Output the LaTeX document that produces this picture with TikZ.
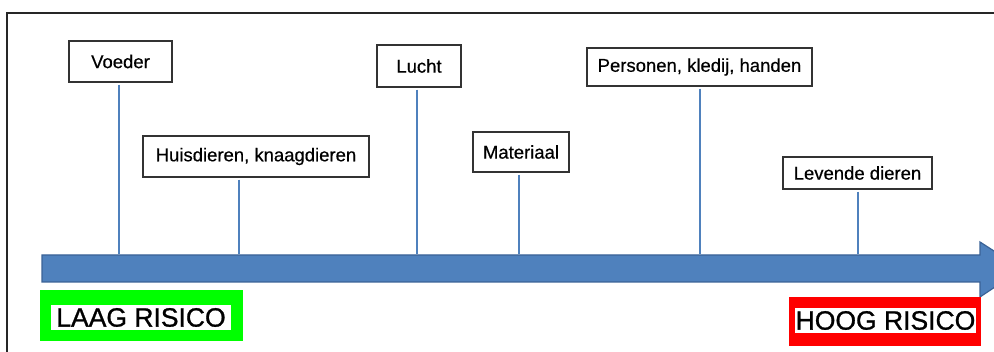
\documentclass[tikz,border=0pt]{standalone}
\usepackage{fontspec}
\setmainfont{Liberation Sans}
\definecolor{barblue}{HTML}{4F81BD}
\definecolor{bardark}{HTML}{3A6296}
\definecolor{boxgray}{HTML}{333333}
\begin{document}
\begin{tikzpicture}[x=1pt,y=-1pt,
  item/.style={draw=boxgray,line width=1.3pt,fill=white,inner sep=0pt,font=\fontsize{18.5}{20}\selectfont\addfontfeature{FakeBold=0.5}},
  stem/.style={draw=barblue,line width=2.2pt},
  risk/.style={fill=white,inner sep=0pt,minimum height=25pt,font=\fontsize{26.5}{28}\selectfont\addfontfeature{FakeBold=1}}]
\useasboundingbox (0,0) rectangle (994,352);
\clip (0,0) rectangle (994,352);
% frame
\draw[line width=2.2pt,black!85] (7,353) -- (7,13) -- (996,13);
% bar arrow
\fill[barblue,draw=bardark,line width=1.2pt] (42,255) -- (980,255) -- (980,242) -- (1022,269) -- (980,297) -- (980,282) -- (42,282) -- cycle;
% items
\node[item,minimum width=103pt,minimum height=41pt] (voeder) at (120.5,61.5) {Voeder};
\node[item,minimum width=226pt,minimum height=41pt] (huis) at (256,156.5) {Huisdieren, knaagdieren};
\node[item,minimum width=84pt,minimum height=42pt] (lucht) at (419,66) {Lucht};
\node[item,minimum width=96pt,minimum height=40pt] (mat) at (521,152) {Materiaal};
\node[item,minimum width=225pt,minimum height=38pt] (pers) at (699.5,67) {Personen, kledij, handen};
\node[item,minimum width=149pt,minimum height=32pt] (lev) at (857.5,173) {Levende dieren};
% stems
\coordinate (t1) at (119,254);
\coordinate (t2) at (239,254);
\coordinate (t3) at (417,254);
\coordinate (t4) at (519,254);
\coordinate (t5) at (700,254);
\coordinate (t6) at (858,254);
\draw[stem] ([yshift=-2pt]voeder.south -| t1) -- (t1);
\draw[stem] ([yshift=-2pt]huis.south -| t2) -- (t2);
\draw[stem] ([yshift=-2pt]lucht.south -| t3) -- (t3);
\draw[stem] ([yshift=-2pt]mat.south -| t4) -- (t4);
\draw[stem] ([yshift=-2pt]pers.south -| t5) -- (t5);
\draw[stem] ([yshift=-2pt]lev.south -| t6) -- (t6);
% risk labels
\fill[green] (40,290) rectangle (243,341);
\node[risk,minimum width=180pt] (laag) at (141,317.5) {LAAG RISICO};
\fill[red] (789,297) rectangle (981,346);
\node[risk,minimum width=181pt] (hoog) at (885.5,320.5) {HOOG RISICO};
\end{tikzpicture}
\end{document}
